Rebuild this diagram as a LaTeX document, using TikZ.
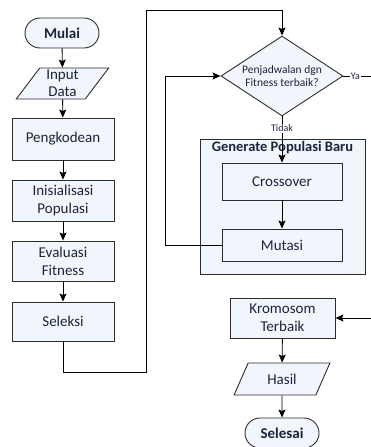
\documentclass[tikz,border=0pt]{standalone}
\usepackage{fontspec}
\setmainfont{Carlito}
\usetikzlibrary{shapes,arrows.meta,positioning,calc}
\definecolor{boxFill}{RGB}{241,245,252}
\definecolor{boxLine}{RGB}{45,45,45}
\definecolor{boxText}{RGB}{30,35,60}

\begin{document}
\begin{tikzpicture}[x=1pt, y=-1pt, every node/.style={font=\fontsize{15}{18}\selectfont, text=boxText},
  proc/.style={draw=boxLine, fill=boxFill, line width=0.9pt, align=center, inner sep=1pt},
  term/.style={proc, rounded rectangle, minimum width=76pt, minimum height=30pt, font=\fontsize{15}{18}\selectfont\bfseries},
  io/.style={proc, trapezium, trapezium stretches=true, inner sep=0pt},
  decision/.style={proc, diamond, aspect=1.525, minimum width=122pt, minimum height=80pt, inner sep=0pt,
    font=\fontsize{11.5}{13.5}\selectfont},
  lbl/.style={font=\fontsize{10}{12}\selectfont, fill=white, inner sep=1pt},
  arr/.style={-{Stealth[length=8pt, width=7pt, inset=1.5pt]}, line width=0.9pt, black}]
  \useasboundingbox (0,0) rectangle (370,447);

  % Left column
  \node[term] (mulai) at (62,33) {Mulai};
  \node[io, trapezium left angle=58, trapezium right angle=122, minimum width=93pt, minimum height=31pt,
    font=\fontsize{15}{17}\selectfont] (input) at (62.5,83.5) {Input\\Data};
  \node[proc, minimum width=102pt, minimum height=42pt] (kode) at (63,139) {Pengkodean};
  \node[proc, minimum width=102pt, minimum height=41pt] (init) at (63,200.5) {Inisialisasi\\Populasi};
  \node[proc, minimum width=102pt, minimum height=40pt] (eval) at (63,261) {Evaluasi\\Fitness};
  \node[proc, minimum width=102pt, minimum height=39pt] (seleksi) at (63,321.5) {Seleksi};

  % Right column
  \node[decision] (cek) at (282,76) {Penjadwalan dgn\\Fitness terbaik?};
  \node[proc, minimum width=165pt, minimum height=135pt] (gen) at (282.5,206.5) {};
  \node[anchor=north, inner sep=3pt, font=\fontsize{14.5}{17}\selectfont\bfseries] (genTitle) at (gen.north) {Generate Populasi Baru};
  \node[proc, minimum width=120pt, minimum height=37pt] (cross) at (282,181.5) {Crossover};
  \node[proc, minimum width=120pt, minimum height=32pt] (mutasi) at (282,245) {Mutasi};
  \node[proc, minimum width=105pt, minimum height=40pt] (krom) at (282.5,318) {Kromosom\\Terbaik};
  \node[io, trapezium left angle=60, trapezium right angle=120, minimum width=96pt, minimum height=32pt]
    (hasil) at (282,379) {Hasil};
  \node[term] (selesai) at (282,433) {Selesai};

  % Arrows
  \draw[arr] (mulai) -- (input);
  \draw[arr] (input) -- (kode);
  \draw[arr] (kode) -- (init);
  \draw[arr] (init) -- (eval);
  \draw[arr] (eval) -- (seleksi);
  \draw[arr] (cross) -- (mutasi);
  \draw[arr] (krom) -- (hasil);
  \draw[arr] (hasil) -- (selesai);

  % Loops
  \coordinate (lowBend) at (146,372);
  \coordinate (topBend) at (146,10);
  \coordinate (backLoop) at (165,245);
  \coordinate (yaTurn) at (374,76);
  \draw[arr] (seleksi.south) |- (lowBend) -- (topBend) -| (cek.north);
  \draw[arr] (cek.south) -- node[lbl, pos=0.26] (tidak) {Tidak} (cross.north);
  \draw[arr] (mutasi.west) -- (backLoop) |- (cek.west);
  \draw[arr] (cek.east) -- node[lbl, pos=0.39] (ya) {Ya} (yaTurn) |- (krom.east);
\end{tikzpicture}
\end{document}
